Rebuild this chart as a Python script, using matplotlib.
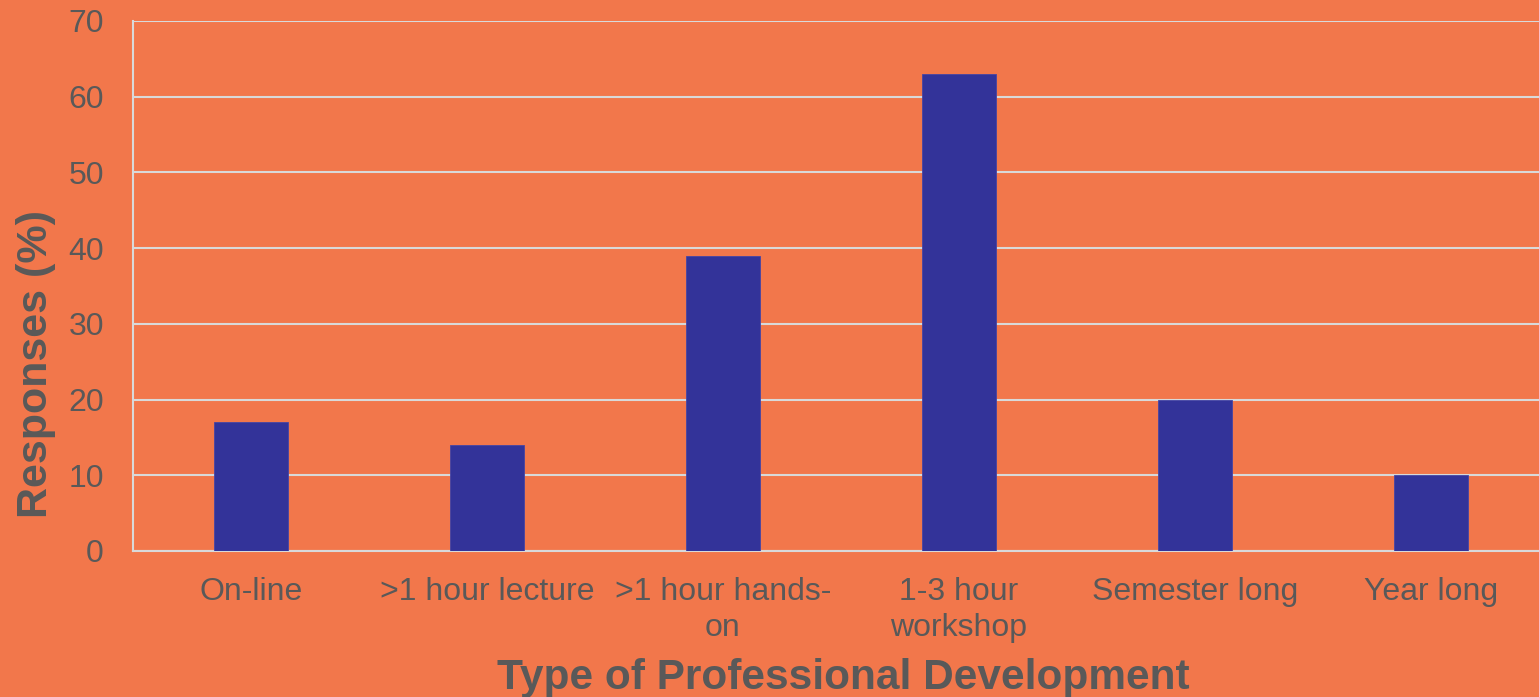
import matplotlib
matplotlib.use("Agg")
import matplotlib.pyplot as plt

categories = ["On-line", ">1 hour lecture", ">1 hour hands-\non", "1-3 hour\nworkshop", "Semester long", "Year long"]
values = [17, 14, 39, 63, 20, 10]
yticks = [0, 10, 20, 30, 40, 50, 60, 70]

bg = "#F2774B"
bar_color = "#333399"
text_color = "#595959"
grid_color = "#D9D9D9"

plt.rcParams["font.family"] = ["Liberation Sans", "DejaVu Sans"]

fig = plt.figure(figsize=(15.39, 6.97), dpi=100, facecolor=bg)
ax = fig.add_axes([0.0864, 0.2095, 0.92, 0.7604])
ax.set_facecolor(bg)

x = list(range(len(categories)))
ax.bar(x, values, width=0.314, color=bar_color, edgecolor="#4545a5", linewidth=0.6, zorder=3)

ax.set_xlim(-0.5, len(categories) - 0.5)
ax.set_ylim(0, 70)
ax.set_yticks(yticks)
ax.set_xticks(x)
ax.set_xticklabels(categories, fontsize=23, color=text_color, linespacing=1.23)
ax.tick_params(axis="y", labelsize=23, labelcolor=text_color, length=0, pad=21)
ax.tick_params(axis="x", length=0, pad=19)

ax.yaxis.grid(True, color=grid_color, linewidth=1.5, zorder=0)
ax.set_axisbelow(True)
for s in ["top", "right"]:
    ax.spines[s].set_visible(False)
ax.spines["left"].set_color(grid_color)
ax.spines["left"].set_linewidth(1.5)
ax.spines["bottom"].set_color(grid_color)
ax.spines["bottom"].set_linewidth(1.5)

fig.text(36 / 1539, 1 - 364 / 697, "Responses (%)", rotation=90, ha="center", va="center",
         fontsize=31, fontweight="bold", color=text_color)
fig.text(843 / 1539, 1 - 689 / 697, "Type of Professional Development", ha="center", va="baseline",
         fontsize=30.5, fontweight="bold", color=text_color)

fig.savefig("out.png", dpi=100, facecolor=bg)
